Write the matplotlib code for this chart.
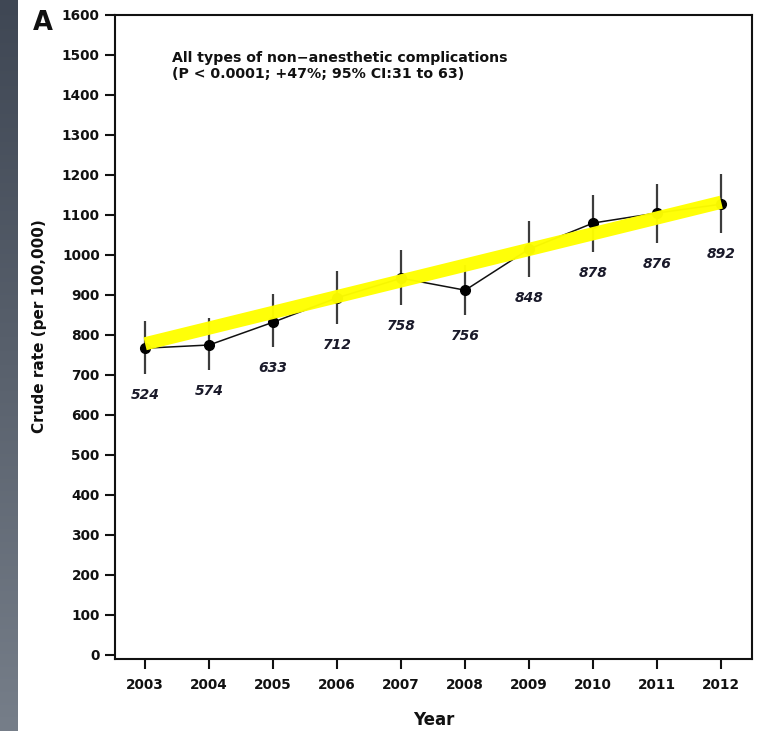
import numpy as np
import matplotlib
matplotlib.use("Agg")
import matplotlib.pyplot as plt
from matplotlib.colors import LinearSegmentedColormap

plt.rcParams['font.family'] = ['DejaVu Sans']

# Crude rate of non-anesthetic complications per year
years = [2003, 2004, 2005, 2006, 2007, 2008, 2009, 2010, 2011, 2012]
rate = [767, 775, 832, 893, 942, 912, 1015, 1080, 1105, 1127]
ci_low = [702, 712, 770, 827, 875, 850, 945, 1007, 1030, 1055]
ci_high = [835, 842, 902, 960, 1012, 975, 1085, 1150, 1178, 1203]
counts = [524, 574, 633, 712, 758, 756, 848, 878, 876, 892]

# Linear trend (fitted values at first and last year)
trend_years = [2003, 2012]
trend_values = [778, 1132]

y_ticks = list(range(0, 1700, 100))

W, H = 761, 731
fig = plt.figure(figsize=(W / 100, H / 100), dpi=100)
fig.patch.set_facecolor('white')

# Dark side strip
strip = fig.add_axes([0, 0, 18 / W, 1])
grad = np.linspace(0, 1, 256).reshape(-1, 1)
cmap = LinearSegmentedColormap.from_list('strip', ['#3f4754', '#59616d', '#767e89'])
strip.imshow(grad, aspect='auto', cmap=cmap, extent=[0, 1, 0, 1], origin='upper')
strip.set_axis_off()

left, right, top, bottom = 115, 752, 15, 659
ax = fig.add_axes([left / W, 1 - bottom / H, (right - left) / W, (bottom - top) / H])
ax.set_xlim(2002.53, 2012.48)
ax.set_ylim(-10, 1600)

for s in ax.spines.values():
    s.set_linewidth(1.5)
    s.set_color('#111111')

# Confidence intervals
yerr = [np.array(rate) - np.array(ci_low), np.array(ci_high) - np.array(rate)]
ax.errorbar(years, rate, yerr=yerr, fmt='none', ecolor='#3c3c3c', elinewidth=1.6,
            capsize=0, zorder=2)
ax.plot(years, rate, color='#111111', lw=1.1, marker='o', ms=7,
        mfc='black', mec='black', zorder=3)

# Trend line
ax.plot(trend_years, trend_values, color='#ffff00', lw=9.5, alpha=0.97,
        solid_capstyle='butt', zorder=4)

# Case counts below each interval
for x, lo, n in zip(years, ci_low, counts):
    ax.annotate(str(n), xy=(x, lo), xytext=(0, -15), textcoords='offset points',
                ha='center', va='center', fontsize=10, fontstyle='italic',
                fontweight='bold', color='#1a1a2a', zorder=5)

ax.set_xticks(years)
ax.set_xticklabels([str(y) for y in years])
ax.set_yticks(y_ticks)
ax.tick_params(axis='both', direction='out', length=7, width=1.5, color='#111111',
               labelsize=9.8, labelcolor='#111111', pad=4)
ax.tick_params(axis='x', pad=7)
for lab in ax.get_xticklabels() + ax.get_yticklabels():
    lab.set_fontweight('bold')

ax.set_xlabel('Year', fontsize=12, fontweight='bold', color='#111111', va='center')
ax.set_ylabel('Crude rate (per 100,000)', fontsize=11, fontweight='bold',
              color='#111111', va='center')
ax.xaxis.set_label_coords(0.5, -0.095)
ax.yaxis.set_label_coords(-0.118, 0.517)

ax.text(0.089, 0.921, 'All types of non\u2212anesthetic complications\n'
        '(P < 0.0001; +47%; 95% CI:31 to 63)', transform=ax.transAxes,
        fontsize=10.2, fontweight='bold', ha='left', va='center', linespacing=1.2,
        color='#111111')

fig.text(43 / W, 1 - 23 / H, 'A', fontsize=18.5, fontweight='bold', ha='center',
         va='center', color='#111111')

fig.savefig('out.png', dpi=100, facecolor='white')
